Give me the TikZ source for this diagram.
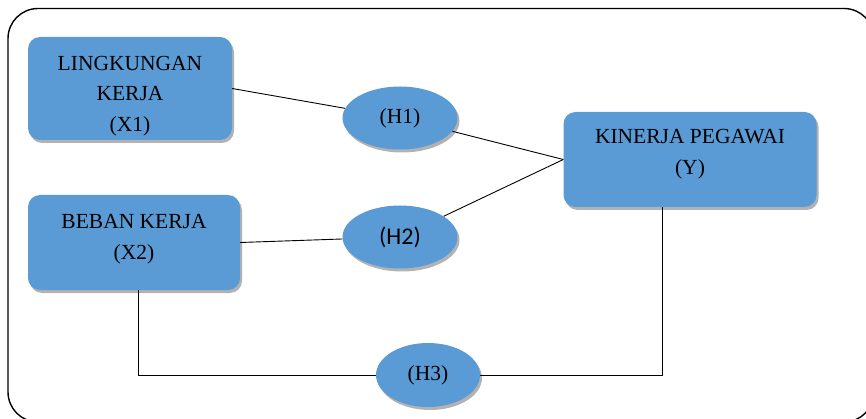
\documentclass[tikz,border=0pt]{standalone}
\usepackage{fontspec}
\setmainfont{Liberation Serif}
\newfontfamily\sanshyp{Carlito}
\usetikzlibrary{shapes,shadows}
\definecolor{boxblue}{RGB}{91,155,213}

\begin{document}
\begin{tikzpicture}[x=1pt, y=-1pt]
	\tikzstyle{every node} = [font=\fontsize{21.5}{30.5}\selectfont, text=black]
	\tikzstyle{var} = [rectangle, rounded corners=12pt, fill=boxblue, inner sep=0pt,
		drop shadow={shadow xshift=2pt, shadow yshift=-3pt, fill=black!60, opacity=.5}]
	\tikzstyle{hyp} = [ellipse, fill=boxblue, inner sep=0pt, minimum width=115pt, minimum height=63pt,
		drop shadow={shadow xshift=2pt, shadow yshift=-3pt, fill=black!60, opacity=.5}]
	\useasboundingbox (0,0) rectangle (866,419);
	\clip (0,0) rectangle (866,419);
	\draw [line width=1.4pt, rounded corners=30pt] (8,8.5) rectangle (874,422);
	\node [var, minimum width=204pt, minimum height=103pt,
		label={[name=x1t, align=center, yshift=-7.5pt]center:LINGKUNGAN\\KERJA\\(X1)}] (x1) at (130,88.5) {};
	\node [var, minimum width=212pt, minimum height=95pt,
		label={[name=x2t, align=center, yshift=3.5pt]center:BEBAN KERJA\\(X2)}] (x2) at (134,242.5) {};
	\node [var, minimum width=253pt, minimum height=95pt,
		label={[name=yt, align=center, yshift=5.5pt]center:KINERJA PEGAWAI\\(Y)}] (y) at (690,159.5) {};
	\node [hyp] (h1) at (400,118) {(H1)};
	\node [hyp] (h2) at (400,237) {\sanshyp\fontsize{24}{28}\selectfont (H2)};
	\node [hyp, minimum width=104pt, minimum height=64pt] (h3) at (428,375) {(H3)};
	\draw [line width=.9pt] (x1.east) -- (h1);
	\draw [line width=.9pt] (h1) -- (y.west);
	\draw [line width=.9pt] (x2.east) -- (h2);
	\draw [line width=.9pt] (h2) -- (y.west);
	\draw [line width=.9pt] ([xshift=4pt]x2.south) |- (h3);
	\draw [line width=.9pt] (h3) -| ([xshift=-28pt]y.south);
\end{tikzpicture}
\end{document}
